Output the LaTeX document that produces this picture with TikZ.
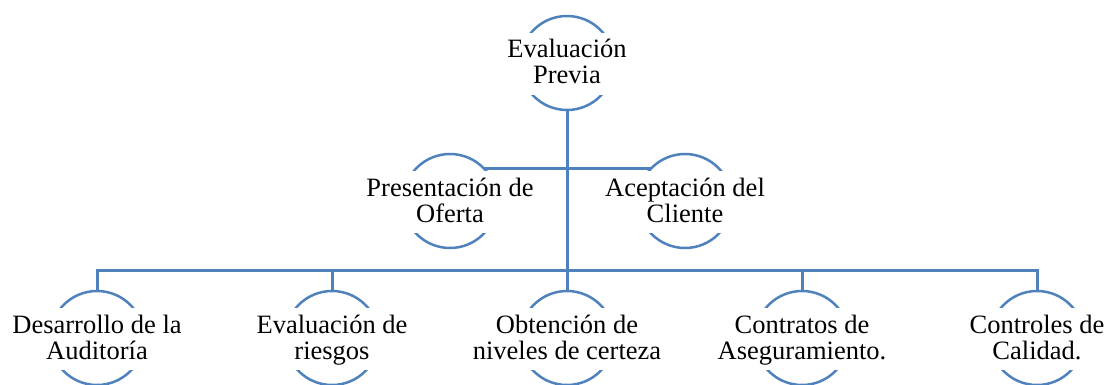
\documentclass[tikz,border=0pt]{standalone}
\usepackage{fontspec}
\setmainfont{Liberation Serif}
\definecolor{lineblue}{RGB}{79,129,189}
\newcommand\lblup{\rule{0pt}{20pt}}
\newcommand\lbldn{\rule[-6pt]{0pt}{6pt}}
\begin{document}
\begin{tikzpicture}[x=1pt,y=-1pt,
  circ/.style={circle,draw=lineblue,line width=2.5pt,minimum size=94pt,inner sep=0pt,outer sep=0pt},
  lbl/.style={fill=white,align=center,anchor=center,font=\fontsize{26.5}{26}\selectfont,
    inner xsep=4pt,inner ysep=0pt,minimum height=62pt,minimum width=104pt},
  conn/.style={draw=lineblue,line width=3pt}]
\useasboundingbox (0,0) rectangle (1108,385);
% circles
\node[circ] (c0) at (567,63) {};
\node[circ] (cL) at (450,201) {};
\node[circ] (cR) at (685,201) {};
\node[circ] (b1) at (97,338) {};
\node[circ] (b2) at (332,338) {};
\node[circ] (b3) at (567,338) {};
\node[circ] (b4) at (802,338) {};
\node[circ] (b5) at (1037,338) {};
\coordinate (bus) at (567,270);
% connectors
\draw[conn] (c0.south) -- (bus);
\draw[conn] (cL.43) -- (cR.137);
\draw[conn] (b1.north) |- (bus);
\draw[conn] (b2.north) |- (bus);
\draw[conn] (b3.north) -- (bus);
\draw[conn] (b4.north) |- (bus);
\draw[conn] (b5.north) |- (bus);
% labels
\node[lbl] (t0) at (567,64) {\lblup Evaluación\\Previa\lbldn};
\node[lbl] (tL) at (450,202) {\lblup Presentación de\\Oferta\lbldn};
\node[lbl] (tR) at (685,202) {\lblup Aceptación del\\Cliente\lbldn};
\node[lbl] (t1) at (97,339) {\lblup Desarrollo de la\\Auditoría\lbldn};
\node[lbl] (t2) at (332,339) {\lblup Evaluación de\\riesgos\lbldn};
\node[lbl] (t3) at (567,339) {\lblup Obtención de\\niveles de certeza\lbldn};
\node[lbl] (t4) at (802,339) {\lblup Contratos de\\Aseguramiento.\lbldn};
\node[lbl] (t5) at (1037,339) {\lblup Controles de\\Calidad.\lbldn};
\end{tikzpicture}
\end{document}
